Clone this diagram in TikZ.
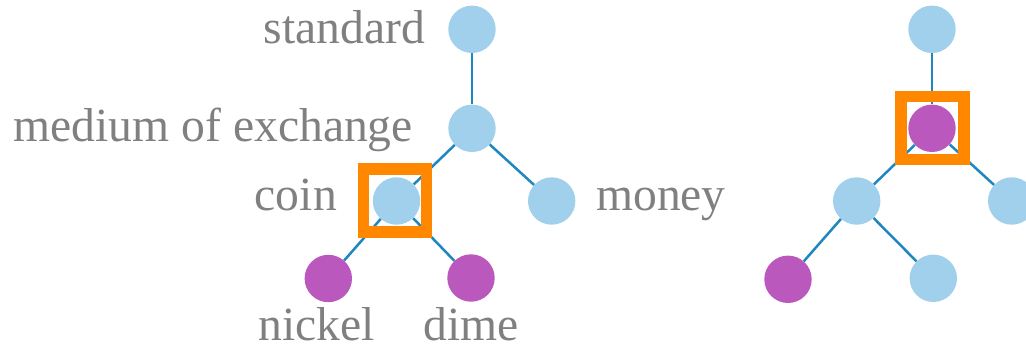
\documentclass[tikz,border=0pt]{standalone}
\usepackage{fontspec}
\setmainfont{Liberation Serif}
\definecolor{nodeblue}{RGB}{160,208,236}
\definecolor{nodepurple}{RGB}{187,88,189}
\definecolor{edgeblue}{RGB}{31,135,192}
\definecolor{hlorange}{RGB}{255,136,0}
\definecolor{txtgray}{RGB}{128,128,128}
\tikzset{
  bnode/.style={circle,fill=nodeblue,minimum size=47.4pt,inner sep=0pt},
  pnode/.style={circle,fill=nodepurple,minimum size=47.4pt,inner sep=0pt},
  edge/.style={draw=edgeblue,line width=2.5pt},
  hlbox/.style={draw=hlorange,line width=11.5pt,minimum size=63pt,inner sep=0pt,fill=none},
  lbl/.style={text=txtgray,font=\fontsize{47.6}{50}\selectfont,inner sep=0pt}
}
\begin{document}
\begin{tikzpicture}[x=1pt,y=-1pt]
\useasboundingbox (0,0) rectangle (1026,346);
% left tree
\node[bnode] (s) at (472,29.3) {};
\node[bnode] (m) at (472,128.3) {};
\node[bnode] (c) at (396.5,201) {};
\node[bnode] (mo) at (551.7,201) {};
\node[pnode] (n) at (328.3,278.5) {};
\node[pnode] (d) at (471,278) {};
\draw[edge] (s) -- (m);
\draw[edge] (m) -- (c);
\draw[edge] (m) -- (mo);
\draw[edge] (c) -- (n);
\draw[edge] (c) -- (d);
\node[hlbox] (h1) at (395,200.5) {};
% labels
\node[lbl,anchor=base east] (ls) at (425,43.3) {standard};
\node[lbl,anchor=base west] (lm) at (13.5,141.7) {medium of exchange};
\node[lbl,anchor=base east] (lc) at (337,210) {coin};
\node[lbl,anchor=base west] (lmo) at (596,210) {money};
\node[lbl,anchor=base] (ln) at (316.5,340) {nickel};
\node[lbl,anchor=base] (ld) at (471.5,340) {dime};
% right tree
\node[bnode] (s2) at (932,29.3) {};
\node[pnode] (m2) at (932,128.3) {};
\node[bnode] (c2) at (856.7,201) {};
\node[bnode] (mo2) at (1011.7,201) {};
\node[pnode] (n2) at (788,279.3) {};
\node[bnode] (d2) at (933.3,278.3) {};
\draw[edge] (s2) -- (m2);
\draw[edge] (m2) -- (c2);
\draw[edge] (m2) -- (mo2);
\draw[edge] (c2) -- (n2);
\draw[edge] (c2) -- (d2);
\node[hlbox] (h2) at (932.3,128) {};
\end{tikzpicture}
\end{document}
